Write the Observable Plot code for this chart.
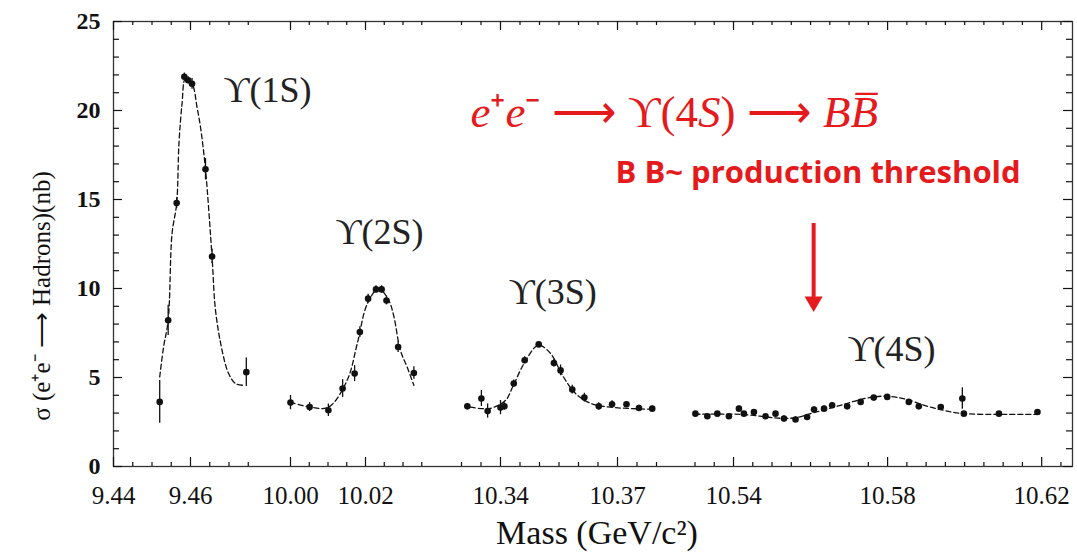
<!DOCTYPE html>
<html><head><meta charset="utf-8">
<script src="https://cdn.jsdelivr.net/npm/d3@7"></script>
<script src="https://cdn.jsdelivr.net/npm/@observablehq/plot@0.6"></script>
<style>body{margin:0;background:#fff}</style>
</head><body><div id="chart"></div>
<script>
// ---- Data (mass in GeV/c^2, cross section in nb) ----
// Upsilon(1S) scan
const mass1S  = [9.4520, 9.4542, 9.4564, 9.4584, 9.4594, 9.4604, 9.4639, 9.4656, 9.4745];
const sigma1S = [3.63, 8.21, 14.8, 21.9, 21.7, 21.5, 16.7, 11.8, 5.3];
const err1S   = [1.2, 0.85, 0.3, 0.2, 0.2, 0.3, 0.6, 0.4, 0.8];
const fitMass1S  = [9.4520, 9.4530, 9.4542, 9.4552, 9.4564, 9.4570, 9.4578, 9.4587, 9.4604, 9.4617, 9.4626, 9.4639, 9.4656, 9.4665, 9.4682, 9.4699, 9.4717, 9.4738];
const fitSigma1S = [5.03, 6.71, 8.21, 13.07, 14.77, 18.13, 20.37, 21.79, 21.51, 20.18, 19.06, 16.67, 11.76, 8.77, 6.53, 5.22, 4.66, 4.56];
// Upsilon(2S) scan
const mass2S  = [10.0000, 10.0051, 10.0101, 10.0139, 10.0171, 10.0185, 10.0207, 10.0228, 10.0243, 10.0256, 10.0287, 10.0329];
const sigma2S = [3.59, 3.34, 3.16, 4.38, 5.22, 7.55, 9.43, 9.95, 9.95, 9.33, 6.71, 5.25];
const err2S   = [0.4, 0.25, 0.35, 0.5, 0.45, 0.3, 0.25, 0.2, 0.2, 0.25, 0.3, 0.35];
const fitMass2S  = [10.0000, 10.0051, 10.0101, 10.0151, 10.0178, 10.0205, 10.0235, 10.0262, 10.0275, 10.0293, 10.0311, 10.0329];
const fitSigma2S = [3.61, 3.34, 3.33, 4.84, 6.90, 9.15, 9.99, 9.33, 8.49, 6.53, 5.59, 4.56];
// Upsilon(3S) scan
const mass3S  = [10.3315, 10.3351, 10.3367, 10.3400, 10.3410, 10.3434, 10.3462, 10.3498, 10.3537, 10.3554, 10.3584, 10.3615, 10.3652, 10.3686, 10.3723, 10.3755, 10.3789];
const sigma3S = [3.38, 3.82, 3.12, 3.31, 3.38, 4.66, 5.97, 6.86, 5.81, 5.40, 4.32, 3.87, 3.38, 3.50, 3.50, 3.29, 3.25];
const err3S   = [0.15, 0.45, 0.4, 0.4, 0.2, 0.2, 0.2, 0.15, 0.2, 0.3, 0.25, 0.25, 0.2, 0.2, 0.15, 0.15, 0.15];
const fitMass3S  = [10.3323, 10.3374, 10.3413, 10.3433, 10.3462, 10.3497, 10.3528, 10.3559, 10.3592, 10.3631, 10.3682, 10.3785];
const fitSigma3S = [3.33, 3.27, 3.72, 4.56, 5.85, 6.81, 6.36, 5.12, 4.11, 3.55, 3.33, 3.22];
// Upsilon(4S) scan
const mass4S  = [10.5301, 10.5332, 10.5358, 10.5388, 10.5414, 10.5427, 10.5453, 10.5483, 10.5509, 10.5531, 10.5561, 10.5591, 10.5609, 10.5635, 10.5656, 10.5695, 10.5730, 10.5764, 10.5799, 10.5855, 10.5881, 10.5938, 10.5994, 10.5998, 10.6089, 10.6189];
const sigma4S = [2.97, 2.82, 2.97, 2.82, 3.25, 2.97, 3.06, 2.82, 2.97, 2.69, 2.64, 2.78, 3.20, 3.25, 3.44, 3.38, 3.63, 3.87, 3.91, 3.63, 3.38, 3.34, 3.82, 2.97, 2.97, 3.06];
const err4S   = [0.1, 0.1, 0.1, 0.1, 0.15, 0.1, 0.1, 0.1, 0.1, 0.15, 0.15, 0.1, 0.15, 0.15, 0.15, 0.1, 0.1, 0.1, 0.1, 0.1, 0.15, 0.15, 0.6, 0.1, 0.1, 0.1];
const fitMass4S  = [10.5296, 10.5418, 10.5548, 10.5613, 10.5678, 10.5743, 10.5795, 10.5847, 10.5912, 10.5990, 10.6094, 10.6197];
const fitSigma4S = [2.93, 2.93, 2.71, 3.05, 3.44, 3.83, 3.95, 3.78, 3.33, 2.99, 2.93, 2.93];

// Broken-axis segments (mass ranges shown) and ticks
const segStart = [9.44, 10.00, 10.33, 10.53];
const segEnd   = [9.48, 10.04, 10.385, 10.628];
const segTickFirst = [9.445, 10.000, 10.330, 10.530];
const segTickLast  = [9.475, 10.035, 10.380, 10.625];
const xTickLabels = [9.44, 9.46, 10.00, 10.02, 10.34, 10.37, 10.54, 10.58, 10.62];
const yTickLabels = [0, 5, 10, 15, 20, 25];
const yMinorTicks = [1,2,3,4,6,7,8,9,11,12,13,14,16,17,18,19,21,22,23,24];

// Annotations
const peakLabels = ["ϒ(1S)", "ϒ(2S)", "ϒ(3S)", "ϒ(4S)"];
const peakLabelMass  = [9.4686, 10.0120, 10.3421, 10.5696];
const peakLabelSigma = [21.1, 13.15, 9.78, 6.58];
const reactionParts = [["e","italic"],["⁺","normal"],["e","italic"],["⁻ ⟶ ϒ(4","normal"],["S","italic"],[") ⟶ ","normal"],["BB̅","italic"]];
const reactionText = reactionParts.map(d => d[0]).join("");
const thresholdText = "B B~ production threshold";
const thresholdMass = 10.5608;

// ---- Build rows ----
const segNames = ["1S","2S","3S","4S"];
const pm = [mass1S, mass2S, mass3S, mass4S], ps = [sigma1S, sigma2S, sigma3S, sigma4S], pe = [err1S, err2S, err3S, err4S];
const fm = [fitMass1S, fitMass2S, fitMass3S, fitMass4S], fs = [fitSigma1S, fitSigma2S, fitSigma3S, fitSigma4S];
const points = segNames.flatMap((n,i) => pm[i].map((m,j) => ({seg:n, m, s: ps[i][j], e: pe[i][j]})));
const fit = segNames.flatMap((n,i) => fm[i].map((m,j) => ({seg:n, m, s: fs[i][j]})));
const minorX = segTickFirst.flatMap((a,i) => d3.range(Math.round((segTickLast[i]-a)/0.005)+1).map(k => +(a + k*0.005).toFixed(3)))
  .filter(v => !xTickLabels.some(t => Math.abs(t - v) < 1e-6));
const labelRows = peakLabels.map((t,i) => ({t, m: peakLabelMass[i], s: peakLabelSigma[i]}));

// piecewise x scale: each segment keeps its own pixel stretch (pixels are styling)
const W = 1077, H = 555, mL = 113, mR = 5, mT = 21, mB = 89;
const pxStart = [113, 290, 461, 694.5];
const pxPerGeV = [3850, 3750, 3900, 3850];
const xDomain = [], xRange = [];
segStart.forEach((s,i) => { xDomain.push(s, segEnd[i]); xRange.push(pxStart[i], pxStart[i] + (segEnd[i]-s)*pxPerGeV[i]); });
xRange[xRange.length-1] = W - mR;

const frameH = H - mT - mB, frameW = W - mL - mR;
const red = "#e41a1c";
const ink = "#111";

const chart = Plot.plot({
  width: W, height: H,
  marginLeft: mL, marginRight: mR, marginTop: mT, marginBottom: mB,
  style: {fontFamily: "'Liberation Serif','Times New Roman',serif", background: "#fff", color: ink},
  x: {type: "linear", domain: xDomain, range: xRange},
  y: {domain: [0, 25]},
  marks: [
    Plot.frame({stroke: "#333", strokeWidth: 1.3}),
    // bottom / top ticks (inward)
    Plot.tickX(minorX, {x: d => d, insetTop: frameH - 4, stroke: ink, strokeWidth: 1.2}),
    Plot.tickX(xTickLabels, {x: d => d, insetTop: frameH - 9, stroke: ink, strokeWidth: 1.2}),
    Plot.tickX(minorX, {x: d => d, insetBottom: frameH - 4, stroke: ink, strokeWidth: 1.2}),
    Plot.tickX(xTickLabels, {x: d => d, insetBottom: frameH - 9, stroke: ink, strokeWidth: 1.2}),
    // left / right ticks
    Plot.tickY(yMinorTicks, {y: d => d, insetRight: frameW - 6, stroke: ink, strokeWidth: 1.2}),
    Plot.tickY(yTickLabels, {y: d => d, insetRight: frameW - 9, stroke: ink, strokeWidth: 1.2}),
    Plot.tickY(yMinorTicks, {y: d => d, insetLeft: frameW - 6, stroke: ink, strokeWidth: 1.2}),
    Plot.tickY(yTickLabels, {y: d => d, insetLeft: frameW - 9, stroke: ink, strokeWidth: 1.2}),
    Plot.axisX({ticks: xTickLabels, tickSize: 0, tickPadding: 20, fontSize: 25, tickFormat: d3.format(".2f"), label: null}),
    Plot.axisY({ticks: yTickLabels, tickSize: 0, tickPadding: 13, fontSize: 24, fontWeight: "bold", label: null}),
    // axis titles
    Plot.text(["Mass (GeV/c²)"], {frameAnchor: "bottom", textAnchor: "middle", lineAnchor: "middle", dy: 67, dx: 4, fontSize: 34, letterSpacing: 2.5, text: d => d}),
    Plot.text(["σ (e⁺e⁻ ⟶ Hadrons)(nb)"], {frameAnchor: "left", textAnchor: "middle", lineAnchor: "middle", rotate: -90, dx: -72, dy: 52, fontSize: 25, text: d => d}),
    // fit curves
    Plot.line(fit, {x: "m", y: "s", z: "seg", curve: "catmull-rom", stroke: ink, strokeWidth: 1.3, strokeDasharray: "5,3"}),
    // error bars and points
    Plot.ruleX(points, {x: "m", y1: d => d.s - d.e, y2: d => d.s + d.e, stroke: ink, strokeWidth: 1.3}),
    Plot.dot(points, {x: "m", y: "s", r: 3.3, fill: ink, stroke: null}),
    // peak labels
    Plot.text(labelRows, {x: "m", y: "s", text: "t", textAnchor: "start", lineAnchor: "middle", fontSize: 36, fill: "#222"}),
    // red annotations
    Plot.text([reactionText], {x: () => 10.3323, y: () => 19.9, text: d => d, textAnchor: "start", lineAnchor: "middle", fontSize: 45, fill: red, className: "reaction"}),
    Plot.text([thresholdText], {x: () => 10.3695, y: () => 16.5, text: d => d, textAnchor: "start", lineAnchor: "middle", fontSize: 31, letterSpacing: 0.4, fontWeight: "bold", fontFamily: "'Open Sans', sans-serif", fill: red}),
    Plot.ruleX([thresholdMass], {x: d => d, y1: 13.65, y2: 9.5, stroke: red, strokeWidth: 4}),
    Plot.dot([thresholdMass], {x: d => d, y: 9.26, symbol: "triangle", rotate: 180, r: 6.7, fill: red, stroke: null})
  ]
});
// mixed italic/upright styling inside the reaction formula
d3.select(chart).selectAll("g.reaction text").each(function() {
  const t = d3.select(this);
  t.text(null);
  reactionParts.forEach(([s, st]) => t.append("tspan").attr("font-style", st).text(s));
});
document.getElementById("chart").appendChild(chart);
</script>
</body></html>
